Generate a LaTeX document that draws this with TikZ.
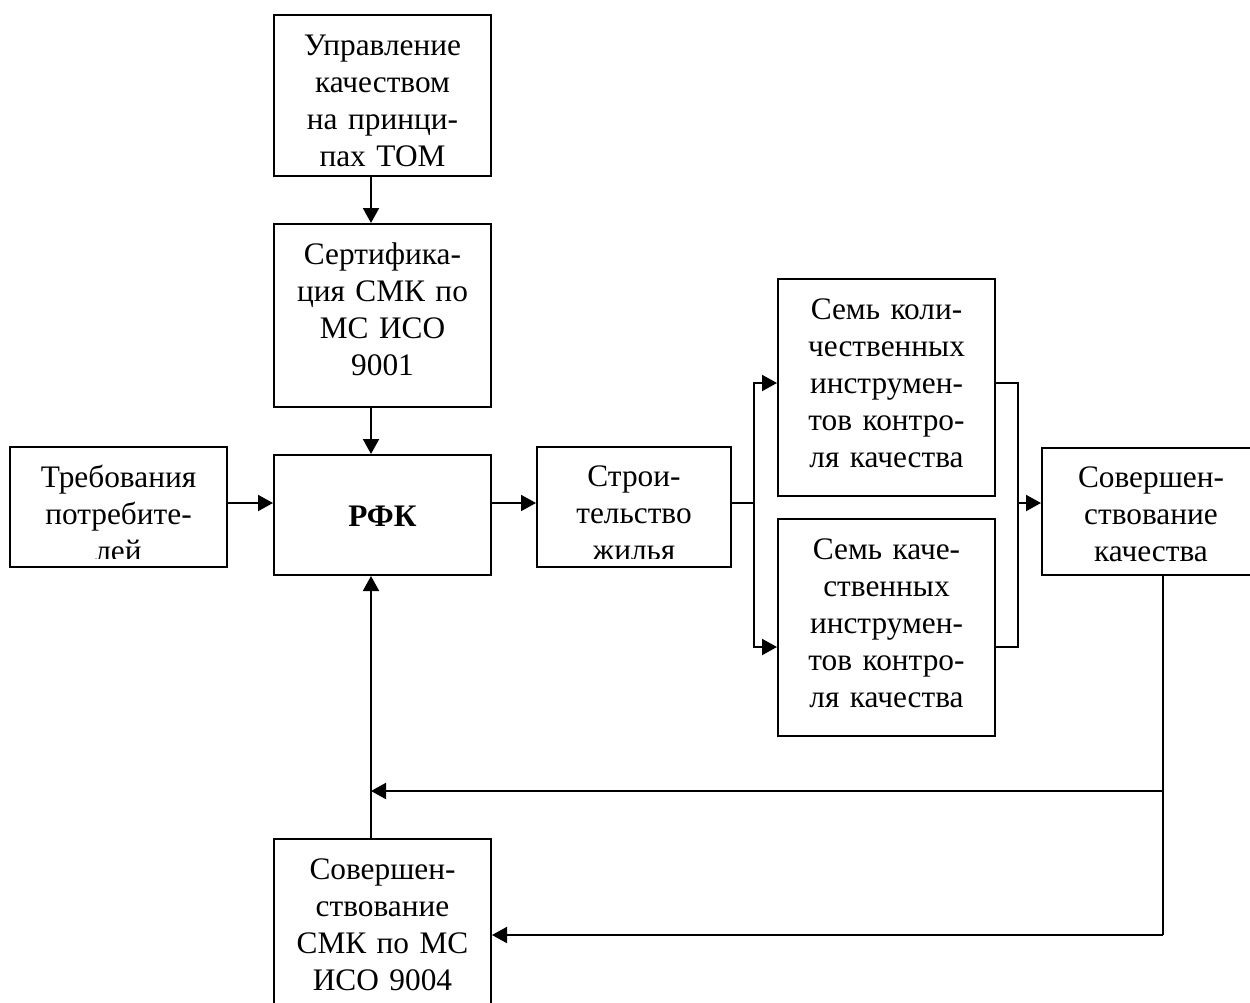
\documentclass[tikz,border=0pt]{standalone}
\usepackage{fontspec}
\setmainfont{Liberation Serif}
\usetikzlibrary{arrows.meta,calc,fit}
\begin{document}
\begin{tikzpicture}[x=0.6pt,y=-0.6pt,
  box/.style={draw, line width=1.2pt, rectangle, inner sep=0pt},
  txt/.style={anchor=base, align=center, text width=128pt, inner sep=0pt,
    font={\fontsize{18.8pt}{22.2pt}\selectfont}},
  conn/.style={line width=1.2pt, -{Triangle[length=9pt,width=9.6pt]}},
  wire/.style={line width=1.2pt}]
\useasboundingbox (0,0) rectangle (1250,1003);
\clip (0,0) rectangle (1250,1003);

% blocks
\node[box, fit={(274,15) (491,176)}]   (tqm)   {};
\node[box, fit={(274,224) (491,407)}]  (cert)  {};
\node[box, fit={(274,455) (491,575)}]  (rfk)   {};
\node[box, fit={(10,447) (227,567)}]   (req)   {};
\node[box, fit={(537,447) (731,567)}]  (build) {};
\node[box, fit={(778,279) (995,496)}]  (quant) {};
\node[box, fit={(778,519) (995,736)}]  (qual)  {};
\node[box, fit={(1042,448) (1260,575)}] (impr) {};
\node[box, fit={(274,839) (491,1022)}] (smk)   {};

% block texts
\node[txt] (tqmT) at ($(tqm.north)+(0,41)$) {Управление\\качеством\\на принци-\\пах ТОМ};
\node[txt] (certT) at ($(cert.north)+(0,41)$) {Сертифика-\\ция СМК по\\МС ИСО\\9001};
\node[txt] (rfkT) at ($(rfk.north)+(0,72)$) {\bfseries РФК};
\node[txt] (quantT) at ($(quant.north)+(0,41)$) {Семь коли-\\чественных\\инструмен-\\тов контро-\\ля качества};
\node[txt] (qualT) at ($(qual.north)+(0,41)$) {Семь каче-\\ственных\\инструмен-\\тов контро-\\ля качества};
\node[txt] (imprT) at ($(impr.north)+(0,40)$) {Совершен-\\ствование\\качества};
\node[txt] (smkT) at ($(smk.north)+(0,41)$) {Совершен-\\ствование\\СМК по МС\\ИСО 9004};
\begin{scope}
  \clip (10,447) rectangle (227,558);
  \node[txt] (reqT) at ($(req.north)+(0,41)$) {Требования\\потребите-\\лей};
\end{scope}
\begin{scope}
  \clip (537,447) rectangle (731,558);
  \node[txt] (buildT) at ($(build.north)+(0,40)$) {Строи-\\тельство\\жилья};
\end{scope}

% routing points
\coordinate (vx) at (371,0);
\coordinate (hy) at (0,503);
\coordinate (sL) at (754,503);
\coordinate (sR) at (1018,503);
\coordinate (a1) at (754,383);
\coordinate (a2) at (754,647);
\coordinate (b1) at (1018,383);
\coordinate (b2) at (1018,647);
\coordinate (fx) at (1163,0);
\coordinate (f1) at (1163,791);
\coordinate (f2) at (1163,935);

% connectors
\draw[conn] (tqm.south -| vx) -- (cert.north -| vx);
\draw[conn] (cert.south -| vx) -- (rfk.north -| vx);
\draw[conn] (req.east |- hy) -- (rfk.west |- hy);
\draw[conn] (rfk.east |- hy) -- (build.west |- hy);
\draw[wire] (build.east |- hy) -- (sL);
\draw[conn] (sL) -- (a1) -- (quant.west |- a1);
\draw[conn] (sL) -- (a2) -- (qual.west |- a2);
\draw[wire] (quant.east |- b1) -- (b1) -- (b2) -- (qual.east |- b2);
\draw[conn] (sR) -- (impr.west |- sR);
\draw[wire] (impr.south -| fx) -- (f2);
\draw[conn] (f1) -- (f1 -| vx);
\draw[conn] (f2) -- (smk.east |- f2);
\draw[conn] (smk.north -| vx) -- (rfk.south -| vx);
\end{tikzpicture}
\end{document}
